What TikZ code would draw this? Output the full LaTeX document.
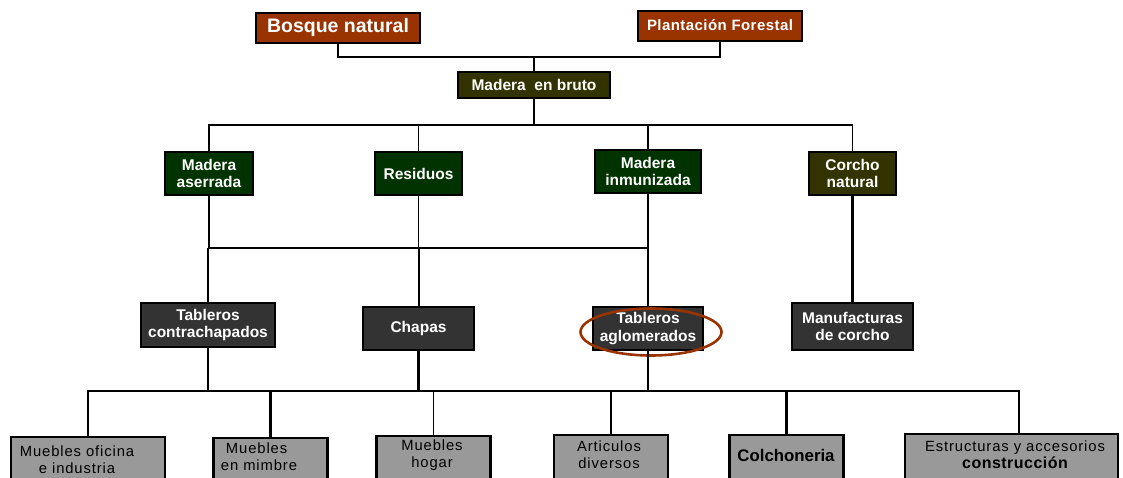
\documentclass[tikz,border=0pt]{standalone}
\usepackage{fontspec}
\setmainfont{Liberation Sans}
\usetikzlibrary{shapes.geometric}
\definecolor{brick}{HTML}{993300}
\definecolor{olive}{HTML}{333300}
\definecolor{dgreen}{HTML}{003300}
\definecolor{dgray}{HTML}{333333}
\definecolor{lgray}{HTML}{999999}
\tikzset{
  boxbase/.style={draw=black, line width=2pt, inner sep=0pt, align=center, text=white,
    font=\bfseries\fontsize{15.5}{17.5}\selectfont},
  topbox/.style={boxbase, fill=brick, minimum height=30pt},
  brutobox/.style={boxbase, fill=olive, minimum height=26pt},
  greenbox/.style={boxbase, fill=dgreen, minimum height=43pt},
  olivebox/.style={boxbase, fill=olive, minimum height=43pt},
  darkbox/.style={boxbase, fill=dgray, minimum height=43pt},
  graybox/.style={draw=black, line width=2.2pt, fill=lgray, minimum height=70pt, anchor=north, inner sep=0pt},
  graytext/.style={inner sep=0pt, align=center, text=black,
    font=\fontsize{14.8}{17}\selectfont\addfontfeature{LetterSpace=6}},
  thinl/.style={line width=1.6pt},
  thickl/.style={line width=2.8pt},
}
\begin{document}
\begin{tikzpicture}[x=1pt,y=-1pt]
\useasboundingbox (0,0) rectangle (1123,477);
\clip (0,0) rectangle (1123,477);
\fill[white] (0,0) rectangle (1123,477);
% row 1
\node[topbox, minimum width=164pt, font=\bfseries\fontsize{19.5}{21}\selectfont] (bosque) at (338,27.5) {Bosque natural};
\node[topbox, minimum width=164pt, font=\bfseries\fontsize{15}{17}\selectfont\addfontfeature{LetterSpace=3}] (plant) at (720,25.5) {Plantación Forestal};
\node[brutobox, minimum width=152pt] (bruto) at (534,85) {Madera\ \ en bruto};
% row 2
\node[greenbox, minimum width=88pt] (aserr) at (209,173.5) {Madera\\aserrada};
\node[greenbox, minimum width=87pt] (resid) at (418.5,173.5) {Residuos};
\node[greenbox, minimum width=106pt] (inmun) at (648,171.5) {Madera\\inmunizada};
\node[olivebox, minimum width=87pt] (corcho) at (852.5,173.5) {Corcho\\natural};
% row 3
\node[darkbox, minimum width=134pt, minimum height=44pt] (contra) at (208,325) {Tableros\\contrachapados};
\node[darkbox, minimum width=111pt] (chapas) at (418.5,328.5) {Chapas};
\node[darkbox, minimum width=110pt] (aglom) at (648,328.5) {Tableros\\aglomerados};
\node[darkbox, minimum width=121pt, minimum height=47pt] (manuf) at (852.5,326.5) {Manufacturas\\de corcho};
\node[draw=brick, line width=2.6pt, ellipse, minimum width=141pt, minimum height=47pt, inner sep=0pt] (ell) at (651,332) {};
% row 4 boxes
\node[graybox, minimum width=154pt] (ofic) at (88,436) {};
\node[graybox, minimum width=114pt] (mimb) at (270.5,437) {};
\node[graybox, minimum width=114pt] (hogar) at (433.5,435) {};
\node[graybox, minimum width=114pt] (artic) at (611,434) {};
\node[graybox, minimum width=114pt] (colch) at (786.5,434) {};
\node[graybox, minimum width=213pt] (estr) at (1011.5,433) {};
% row 4 texts
\node[graytext] (ofict) at (77,460) {Muebles oficina\\e industria};
\node[graytext, align=left] (mimbt) at (259,457) {\ Muebles\\en mimbre};
\node[graytext] (hogart) at (432,455) {Muebles\\hogar};
\node[graytext] (artict) at (609,454.5) {Articulos\\diversos};
\node[graytext, font=\bfseries\fontsize{16.8}{18}\selectfont] (colcht) at (786,455) {Colchoneria};
\node[graytext] (estrt) at (1015,454.5) {Estructuras y accesorios\\{\bfseries\fontsize{16}{17}\selectfont\addfontfeature{LetterSpace=3}construcción}};
% connectors
\coordinate (j1) at (534,57);
\coordinate (j2) at (534,125);
\coordinate (b1) at (418.5,248);
\coordinate (b2) at (418.5,391);
\draw[line width=2pt] (bosque.south) |- (j1) -| (plant.south);
\draw[line width=2pt] (j1) -- (bruto.north);
\draw[thickl] (bruto.south) -- (j2);
\draw[thinl] (aserr.north) |- (j2) -| (corcho.north);
\draw[thinl] (resid.north) -- (resid.north |- j2);
\draw[thinl] (inmun.north) -- (inmun.north |- j2);
\draw[thinl] (aserr.south) |- (b1) -| (inmun.south);
\draw[thinl] (resid.south) -- (b1);
\draw[thinl] (inmun.south) -- (aglom.north);
\draw[line width=2pt] (b1) -- (chapas.north);
\draw[line width=2pt] (contra.north |- b1) -- (contra.north);
\draw[thickl] (corcho.south) -- (manuf.north);
\draw[thickl] (contra.south) -- (contra.south |- b2);
\draw[thickl] (chapas.south) -- (b2);
\draw[thickl] (aglom.south) -- (aglom.south |- b2);
\draw[thinl] (ofic.north) |- (hogar.north |- b2) -- (hogar.north);
\draw[thickl] (mimb.north) |- ([xshift=7.5pt]estr.north |- b2) -- ([xshift=7.5pt]estr.north);
\draw[thinl] (artic.north) -- (artic.north |- b2);
\draw[thickl] (colch.north) -- (colch.north |- b2);
\end{tikzpicture}
\end{document}
